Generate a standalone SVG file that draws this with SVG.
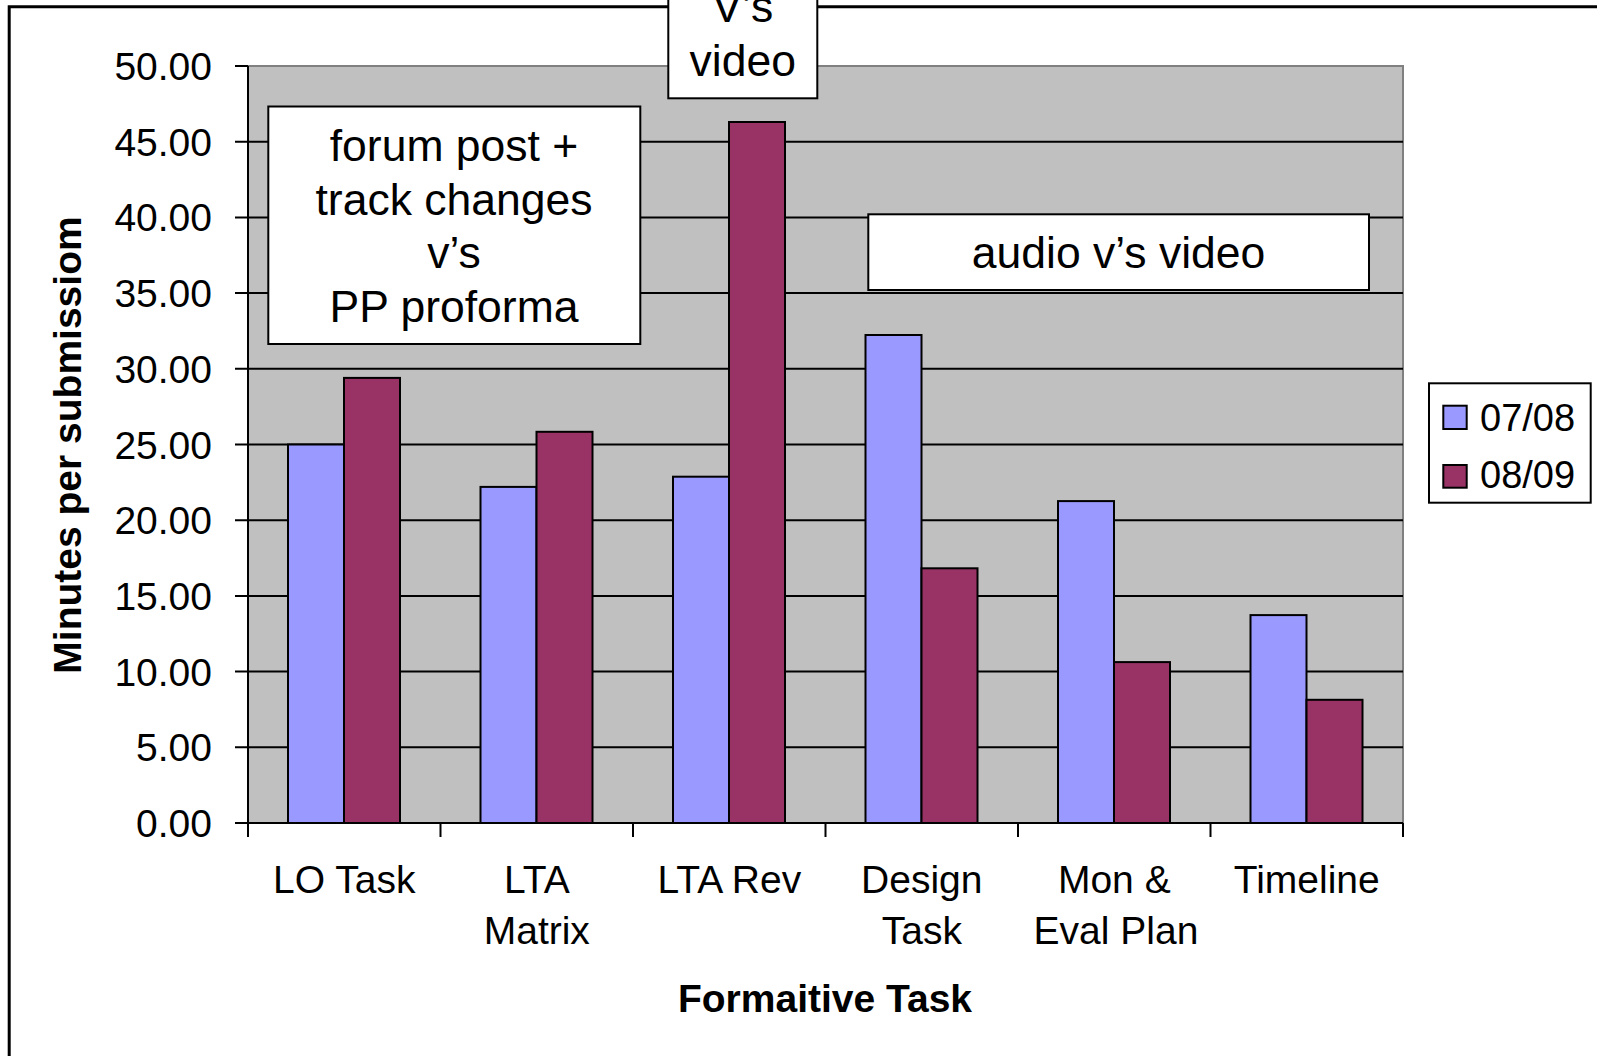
<svg xmlns="http://www.w3.org/2000/svg" width="1597" height="1056" viewBox="0 0 1597 1056">
<style>
text{font-family:"Liberation Sans",Arial,sans-serif;fill:#000}
.yl{font-size:39px;text-anchor:end}
.cl{font-size:39px;text-anchor:middle}
.bx{font-size:44.5px;text-anchor:middle}
.lg{font-size:38px}
.ttl{font-size:39px;font-weight:bold;text-anchor:middle}
.grid{stroke:#000;stroke-width:2}
.b1{fill:#9999FF;stroke:#000;stroke-width:2}
.b2{fill:#993366;stroke:#000;stroke-width:2}
.box{fill:#fff;stroke:#000;stroke-width:2}
</style>
<rect width="1597" height="1056" fill="#fff"/>
<g id="frame"><path d="M9.2 1056V6.7H1597" fill="none" stroke="#000" stroke-width="3"/></g>
<g id="plot">
<rect x="248" y="66" width="1155" height="757" fill="#C0C0C0"/>
<path d="M248 66H1403V823" fill="none" stroke="#808080" stroke-width="2"/>
</g>
<g id="connectors">
<g class="grid">
<path d="M235 141.7H1403M235 217.4H1403M235 293.1H1403M235 368.8H1403M235 444.5H1403M235 520.2H1403M235 595.9H1403M235 671.6H1403M235 747.3H1403M235 66H248"/>
<path d="M235 823H1403M248 66V837M440.5 823V837M633 823V837M825.5 823V837M1018 823V837M1210.5 823V837M1403 823V837"/>
</g>
</g>
<g id="y-axis-labels">
<text class="yl" x="212" y="80">50.00</text>
<text class="yl" x="212" y="155.7">45.00</text>
<text class="yl" x="212" y="231.4">40.00</text>
<text class="yl" x="212" y="307.1">35.00</text>
<text class="yl" x="212" y="382.8">30.00</text>
<text class="yl" x="212" y="458.5">25.00</text>
<text class="yl" x="212" y="534.2">20.00</text>
<text class="yl" x="212" y="609.9">15.00</text>
<text class="yl" x="212" y="685.6">10.00</text>
<text class="yl" x="212" y="761.3">5.00</text>
<text class="yl" x="212" y="837">0.00</text>
</g>
<g id="bars">
<g id="lo-task"><rect class="b1" x="288" y="444.5" width="56" height="378.5"/><rect class="b2" x="344" y="377.9" width="56" height="445.1"/></g>
<g id="lta-matrix"><rect class="b1" x="480.5" y="486.9" width="56" height="336.1"/><rect class="b2" x="536.5" y="431.8" width="56" height="391.2"/></g>
<g id="lta-rev"><rect class="b1" x="673" y="476.7" width="56" height="346.3"/><rect class="b2" x="729" y="122" width="56" height="701"/></g>
<g id="design-task"><rect class="b1" x="865.5" y="335" width="56" height="488"/><rect class="b2" x="921.5" y="568.3" width="56" height="254.7"/></g>
<g id="mon-eval"><rect class="b1" x="1058" y="501.1" width="56" height="321.9"/><rect class="b2" x="1114" y="662.1" width="56" height="160.9"/></g>
<g id="timeline"><rect class="b1" x="1250.5" y="615.1" width="56" height="207.9"/><rect class="b2" x="1306.5" y="699.8" width="56" height="123.2"/></g>
</g>
<g id="category-labels">
<text class="cl" x="344.3" y="893">LO Task</text>
<text class="cl" x="536.8" y="893">LTA</text>
<text class="cl" x="536.8" y="944">Matrix</text>
<text class="cl" x="729.3" y="893">LTA Rev</text>
<text class="cl" x="921.8" y="893">Design</text>
<text class="cl" x="921.8" y="944">Task</text>
<text class="cl" x="1114.3" y="893">Mon &amp;</text>
<text class="cl" x="1116" y="944">Eval Plan</text>
<text class="cl" x="1306.8" y="893">Timeline</text>
</g>
<g id="box-forum">
<rect class="box" x="268.3" y="106.5" width="372" height="237.5"/>
<text class="bx" x="454" y="161">forum post +</text>
<text class="bx" x="454" y="214.7">track changes</text>
<text class="bx" x="454" y="268.4">v’s</text>
<text class="bx" x="454" y="322">PP proforma</text>
</g>
<g id="box-vs-video">
<rect class="box" x="668.3" y="-10" width="149" height="108.3"/>
<text class="bx" x="742.8" y="22.3">V’s</text>
<text class="bx" x="742.8" y="76">video</text>
</g>
<g id="box-audio">
<rect class="box" x="868.3" y="214.3" width="500.7" height="75.7"/>
<text class="bx" x="1118.6" y="267.7">audio v’s video</text>
</g>
<g id="legend">
<rect x="1429" y="383.3" width="161.7" height="119.4" fill="#fff" stroke="#000" stroke-width="2"/>
<rect class="b1" x="1443.3" y="405.7" width="23.4" height="23.3"/>
<rect class="b2" x="1443.3" y="465" width="23.4" height="22.7"/>
<text class="lg" x="1480" y="431">07/08</text>
<text class="lg" x="1480" y="488.3">08/09</text>
</g>
<g id="axis-titles">
<text class="ttl" x="825" y="1012">Formaitive Task</text>
<text class="ttl" transform="translate(81 445) rotate(-90)" x="0" y="0">Minutes per submissiom</text>
</g>
</svg>
